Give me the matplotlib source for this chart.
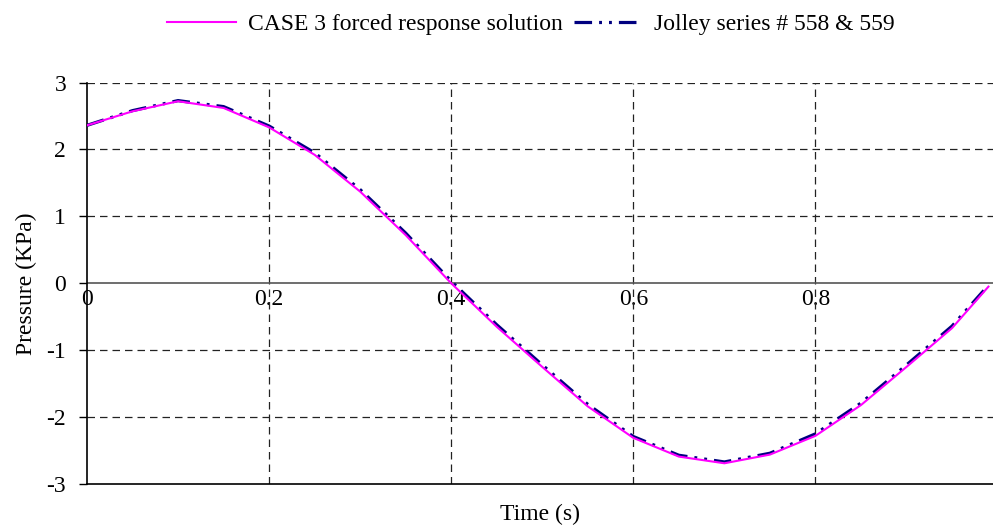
import matplotlib.pyplot as plt

plt.rcParams['font.family'] = ['Liberation Serif', 'DejaVu Serif']

# time (s)
time = [0.0, 0.05, 0.1, 0.15, 0.2, 0.25, 0.3, 0.35, 0.4, 0.45, 0.5,
        0.55, 0.6, 0.65, 0.7, 0.75, 0.8, 0.85, 0.9, 0.95, 0.99]

# CASE 3 forced response solution (KPa)
case3 = [2.36, 2.57, 2.72, 2.62, 2.33, 1.92, 1.37, 0.72, 0.0, -0.65, -1.25,
         -1.84, -2.31, -2.59, -2.69, -2.56, -2.28, -1.82, -1.25, -0.67, -0.05]

# Jolley series # 558 & 559 (KPa)
jolley = [2.36, 2.58, 2.73, 2.64, 2.35, 1.95, 1.40, 0.75, 0.03, -0.62, -1.22,
          -1.81, -2.29, -2.57, -2.67, -2.54, -2.25, -1.79, -1.22, -0.64, -0.03]

xticks = [0, 0.2, 0.4, 0.6, 0.8]
xlabels = ['0', '0.2', '0.4', '0.6', '0.8']
yticks = [-3, -2, -1, 0, 1, 2, 3]

fig = plt.figure(figsize=(9.93, 5.29), dpi=100)
ax = fig.add_axes([0.0876, 0.085, 0.9124, 0.759])

ax.plot(time, case3, color='#FF00FF', lw=1.5, label='CASE 3 forced response solution', zorder=4)
ax.plot(time, jolley, color='#000080', lw=2.3, dashes=(5.5, 2.2, 0.9, 2.2, 0.9, 2.2),
        label='Jolley series # 558 & 559', zorder=3)

ax.set_xlim(0, 0.995)
ax.set_ylim(-3, 3)

# grid
for x in xticks[1:]:
    ax.axvline(x, color='#222222', lw=0.9, dashes=(6, 4), zorder=1)
for y in [-2, -1, 1, 2, 3]:
    ax.axhline(y, color='#222222', lw=0.9, dashes=(6, 4), zorder=1)
ax.axhline(0, color='#555555', lw=1.2, zorder=2)

for s in ['top', 'right']:
    ax.spines[s].set_visible(False)
ax.spines['left'].set_linewidth(1.2)
ax.spines['bottom'].set_linewidth(1.2)

ax.set_yticks(yticks)
ax.set_yticklabels([str(v) for v in yticks])
ax.tick_params(axis='y', length=6, width=1.0, direction='out', labelsize=17, pad=9)
ax.set_xticks([])

# x tick labels drawn along the zero line
sec = ax.secondary_xaxis(0.5)
sec.set_xticks(xticks)
sec.set_xticklabels(xlabels)
sec.xaxis.set_ticks_position('bottom')
sec.tick_params(length=0, labelsize=17, pad=4)
for s in sec.spines.values():
    s.set_visible(False)

ax.set_ylabel('Pressure (KPa)', fontsize=17, labelpad=7)
ax.set_xlabel('Time (s)', fontsize=17, labelpad=14)

fig.legend(loc='upper center', bbox_to_anchor=(0.535, 1.015), ncol=2, frameon=False,
           fontsize=17, handlelength=2.9, columnspacing=0.5, handletextpad=0.5)

fig.savefig('out.png', dpi=100)
